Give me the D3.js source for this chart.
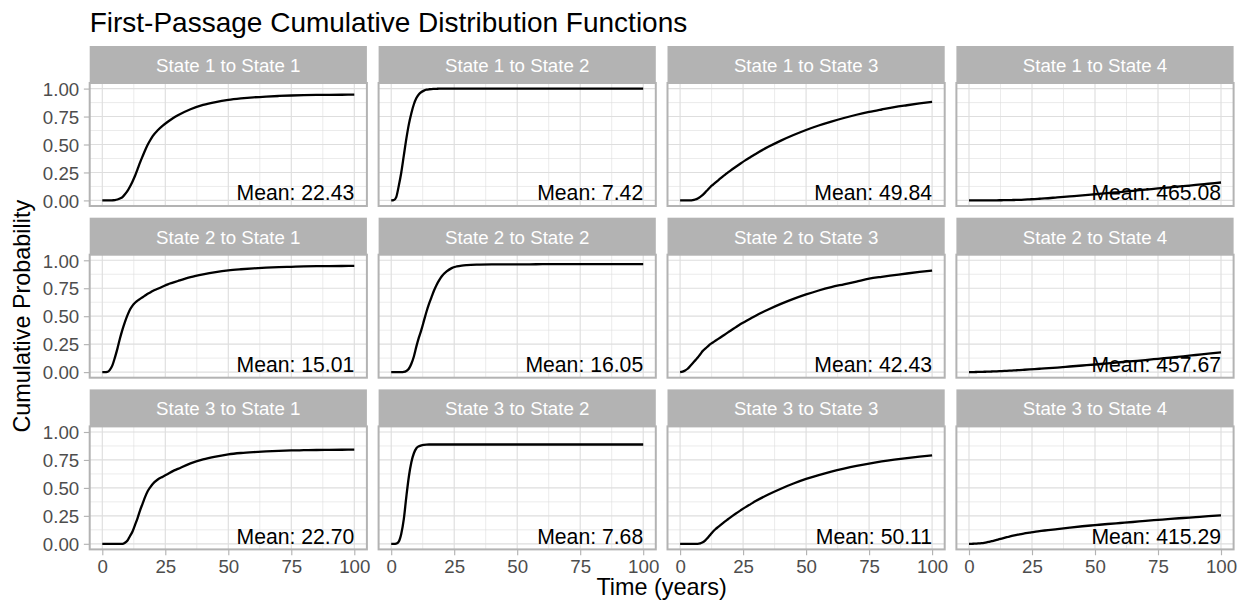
<!DOCTYPE html>
<html>
<head>
<meta charset="utf-8">
<script src="https://cdn.jsdelivr.net/npm/d3@7"></script>
<style>
  html, body { margin: 0; padding: 0; background: #ffffff; }
  svg { display: block; font-family: "Liberation Sans", Arial, sans-serif; }
</style>
</head>
<body>
<script>
// ---------------- DATA ----------------
const chartTitle = "First-Passage Cumulative Distribution Functions";
const xTitle = "Time (years)";
const yTitle = "Cumulative Probability";

const facetLabels = [
  "State 1 to State 1", "State 1 to State 2", "State 1 to State 3", "State 1 to State 4",
  "State 2 to State 1", "State 2 to State 2", "State 2 to State 3", "State 2 to State 4",
  "State 3 to State 1", "State 3 to State 2", "State 3 to State 3", "State 3 to State 4"
];
const meanLabels = [
  "22.43", "7.42", "49.84", "465.08",
  "15.01", "16.05", "42.43", "457.67",
  "22.70", "7.68", "50.11", "415.29"
];

const xTicks = [0, 25, 50, 75, 100];
const yTicks = [0, 0.25, 0.5, 0.75, 1];
const yTickLabels = ["0.00", "0.25", "0.50", "0.75", "1.00"];

// time grid (years)
const times = [0,1,2,3,4,5,6,7,8,9,10,11,12,13,14,15,16,17,18,19,20,
               22,24,26,28,30,35,40,45,50,55,60,65,70,75,80,85,90,95,100];

// cumulative probabilities, one array per facet
const cdf11 = [0,0,0,0,0.001,0.003,0.008,0.017,0.03,0.055,0.085,0.125,0.17,0.22,0.28,0.34,0.395,0.448,0.497,0.538,0.575,
               0.627,0.668,0.703,0.734,0.761,0.815,0.854,0.88,0.899,0.912,0.922,0.929,0.934,0.938,0.941,0.943,0.944,0.945,0.946];
const cdf12 = [0,0.002,0.03,0.13,0.25,0.40,0.55,0.68,0.78,0.86,0.915,0.95,0.97,0.982,0.99,0.994,0.996,0.997,0.998,0.999,0.999,
               0.999,1,1,1,1,1,1,1,1,1,1,1,1,1,1,1,1,1,1];
const cdf13 = [0,0,0,0,0,0.002,0.008,0.018,0.032,0.05,0.072,0.096,0.12,0.14,0.159,0.178,0.197,0.215,0.232,0.25,0.267,
               0.299,0.33,0.36,0.388,0.416,0.479,0.535,0.585,0.63,0.67,0.705,0.737,0.766,0.791,0.813,0.834,0.851,0.867,0.882];
const cdf14 = [0,0,0,0,0,0,0,0,0.0003,0.0005,0.0007,0.001,0.0013,0.0016,0.002,0.0024,0.0028,0.0033,0.0038,0.0044,0.005,
               0.007,0.0095,0.012,0.015,0.018,0.027,0.036,0.045,0.055,0.065,0.075,0.086,0.096,0.107,0.117,0.128,0.138,0.149,0.16];
const cdf21 = [0,0,0.002,0.02,0.06,0.13,0.21,0.30,0.38,0.45,0.51,0.56,0.595,0.62,0.64,0.655,0.67,0.685,0.70,0.712,0.725,
               0.745,0.765,0.785,0.80,0.815,0.85,0.875,0.895,0.91,0.92,0.928,0.934,0.939,0.942,0.945,0.947,0.948,0.949,0.95];
const cdf22 = [0,0,0,0,0,0.002,0.01,0.03,0.075,0.14,0.23,0.31,0.38,0.46,0.54,0.61,0.67,0.73,0.78,0.82,0.855,
               0.90,0.93,0.945,0.953,0.957,0.961,0.963,0.964,0.964,0.964,0.965,0.965,0.965,0.965,0.965,0.965,0.965,0.965,0.965];
const cdf23 = [0,0.005,0.015,0.03,0.055,0.08,0.105,0.13,0.16,0.19,0.21,0.23,0.25,0.265,0.28,0.295,0.31,0.325,0.34,0.355,0.37,
               0.40,0.43,0.455,0.48,0.505,0.56,0.61,0.655,0.695,0.73,0.76,0.785,0.81,0.835,0.852,0.867,0.882,0.896,0.908];
const cdf24 = [0,0.0002,0.0006,0.0011,0.0016,0.0022,0.003,0.0037,0.0045,0.0055,0.0064,0.0074,0.0084,0.0094,0.0105,0.0117,0.0129,0.0141,0.0154,0.0167,0.018,
               0.021,0.024,0.027,0.030,0.033,0.041,0.05,0.059,0.068,0.078,0.088,0.098,0.108,0.119,0.13,0.141,0.153,0.165,0.177];
const cdf31 = [0,0,0,0,0,0,0,0,0,0.01,0.03,0.07,0.11,0.17,0.23,0.30,0.36,0.42,0.47,0.505,0.535,
               0.575,0.60,0.625,0.65,0.67,0.72,0.755,0.78,0.80,0.812,0.82,0.826,0.831,0.835,0.837,0.839,0.84,0.841,0.842];
const cdf32 = [0,0,0.002,0.02,0.09,0.22,0.42,0.60,0.73,0.81,0.855,0.872,0.881,0.885,0.887,0.888,0.888,0.888,0.888,0.888,0.888,
               0.888,0.888,0.888,0.888,0.888,0.888,0.888,0.888,0.888,0.888,0.888,0.888,0.888,0.888,0.888,0.888,0.888,0.888,0.888];
const cdf33 = [0,0,0,0,0,0,0,0,0.004,0.013,0.03,0.055,0.082,0.108,0.13,0.149,0.167,0.185,0.203,0.22,0.237,
               0.269,0.299,0.328,0.355,0.382,0.441,0.493,0.539,0.58,0.615,0.646,0.673,0.697,0.718,0.737,0.753,0.767,0.78,0.791];
const cdf34 = [0,0,0.001,0.002,0.004,0.006,0.009,0.013,0.018,0.023,0.029,0.035,0.041,0.047,0.053,0.059,0.065,0.07,0.075,0.08,0.085,
               0.093,0.10,0.107,0.113,0.119,0.132,0.145,0.157,0.167,0.177,0.186,0.195,0.205,0.214,0.223,0.231,0.239,0.247,0.254];

const facetSeries = [cdf11, cdf12, cdf13, cdf14, cdf21, cdf22, cdf23, cdf24, cdf31, cdf32, cdf33, cdf34];

// ---------------- LAYOUT ----------------
const W = 1247, H = 609;
const nCols = 4, nRows = 3;
const panelLeft = 89.7, panelW = 277.2, colGap = 11.7;
const stripTop = 46, stripH = 37, panelH = 123, rowGap = 11.7;
const fontFamily = '"Liberation Sans", Arial, sans-serif';

const svg = d3.select("body").append("svg")
  .attr("width", W).attr("height", H)
  .attr("viewBox", `0 0 ${W} ${H}`);

svg.append("rect").attr("width", W).attr("height", H).attr("fill", "#ffffff");

const x = d3.scaleLinear().domain([-5, 105]).range([0, panelW]);
const y = d3.scaleLinear().domain([-0.05, 1.05]).range([panelH, 0]);

const xMinor = [12.5, 37.5, 62.5, 87.5];
const yMinor = [0.125, 0.375, 0.625, 0.875];

const line = d3.line()
  .x(d => x(d.t))
  .y(d => y(d.p))
  .curve(d3.curveMonotoneX);

// title
svg.append("text")
  .attr("x", panelLeft).attr("y", 32)
  .attr("font-size", 28).attr("fill", "#000")
  .text(chartTitle);

facetLabels.forEach((lab, i) => {
  const r = Math.floor(i / nCols), c = i % nCols;
  const gx = panelLeft + c * (panelW + colGap);
  const gy = stripTop + r * (stripH + panelH + rowGap);

  // strip
  svg.append("rect")
    .attr("x", gx).attr("y", gy).attr("width", panelW).attr("height", stripH)
    .attr("fill", "#B3B3B3");
  svg.append("text")
    .attr("x", gx + panelW / 2).attr("y", gy + 26)
    .attr("text-anchor", "middle")
    .attr("font-size", 18.7).attr("fill", "#ffffff")
    .text(lab);

  const g = svg.append("g").attr("transform", `translate(${gx},${gy + stripH})`);
  g.append("rect").attr("width", panelW).attr("height", panelH).attr("fill", "#ffffff");

  // minor grid
  g.selectAll(".vminor").data(xMinor).enter().append("line")
    .attr("x1", d => x(d)).attr("x2", d => x(d)).attr("y1", 0).attr("y2", panelH)
    .attr("stroke", "#DEDEDE").attr("stroke-width", 0.6);
  g.selectAll(".hminor").data(yMinor).enter().append("line")
    .attr("y1", d => y(d)).attr("y2", d => y(d)).attr("x1", 0).attr("x2", panelW)
    .attr("stroke", "#DEDEDE").attr("stroke-width", 0.6);
  // major grid
  g.selectAll(".vmajor").data(xTicks).enter().append("line")
    .attr("x1", d => x(d)).attr("x2", d => x(d)).attr("y1", 0).attr("y2", panelH)
    .attr("stroke", "#DEDEDE").attr("stroke-width", 1.15);
  g.selectAll(".hmajor").data(yTicks).enter().append("line")
    .attr("y1", d => y(d)).attr("y2", d => y(d)).attr("x1", 0).attr("x2", panelW)
    .attr("stroke", "#DEDEDE").attr("stroke-width", 1.15);

  // curve
  const pts = times.map((t, k) => ({ t: t, p: facetSeries[i][k] }));
  g.append("path").datum(pts)
    .attr("d", line)
    .attr("fill", "none").attr("stroke", "#000").attr("stroke-width", 2.3)
    .attr("stroke-linejoin", "round");

  // mean label
  g.append("text")
    .attr("x", x(100)).attr("y", y(0))
    .attr("text-anchor", "end")
    .attr("font-size", 21.2).attr("fill", "#000")
    .text("Mean: " + meanLabels[i]);

  // border
  g.append("rect").attr("width", panelW).attr("height", panelH)
    .attr("fill", "none").attr("stroke", "#B3B3B3").attr("stroke-width", 2);

  // y axis on first column
  if (c === 0) {
    const ya = d3.axisLeft(y).tickValues(yTicks)
      .tickFormat((d, k) => yTickLabels[k]).tickSize(5.84).tickPadding(4.7);
    const yg = g.append("g").call(ya);
    yg.select(".domain").remove();
    yg.selectAll(".tick line").attr("stroke", "#B3B3B3").attr("stroke-width", 1.15);
    yg.selectAll(".tick text").attr("fill", "#4D4D4D")
      .attr("font-size", 18.7).attr("font-family", fontFamily).attr("dy", "0.36em");
  }
  // x axis on bottom row
  if (r === nRows - 1) {
    const xa = d3.axisBottom(x).tickValues(xTicks)
      .tickFormat(d3.format("d")).tickSize(5.84).tickPadding(4.7);
    const xg = g.append("g").attr("transform", `translate(0,${panelH})`).call(xa);
    xg.select(".domain").remove();
    xg.selectAll(".tick line").attr("stroke", "#B3B3B3").attr("stroke-width", 1.15);
    xg.selectAll(".tick text").attr("fill", "#4D4D4D")
      .attr("font-size", 18.7).attr("font-family", fontFamily).attr("dy", "0.68em");
  }
});

// axis titles
const panelsRight = panelLeft + nCols * panelW + (nCols - 1) * colGap;
svg.append("text")
  .attr("x", (panelLeft + panelsRight) / 2).attr("y", 595)
  .attr("text-anchor", "middle").attr("font-size", 23.4).attr("fill", "#000")
  .text(xTitle);

const firstPanelTop = stripTop + stripH;
const lastPanelBottom = stripTop + nRows * (stripH + panelH) + (nRows - 1) * rowGap;
svg.append("text")
  .attr("transform", `translate(30,${(firstPanelTop + lastPanelBottom) / 2}) rotate(-90)`)
  .attr("text-anchor", "middle").attr("font-size", 23.4).attr("fill", "#000")
  .text(yTitle);
</script>
</body>
</html>
